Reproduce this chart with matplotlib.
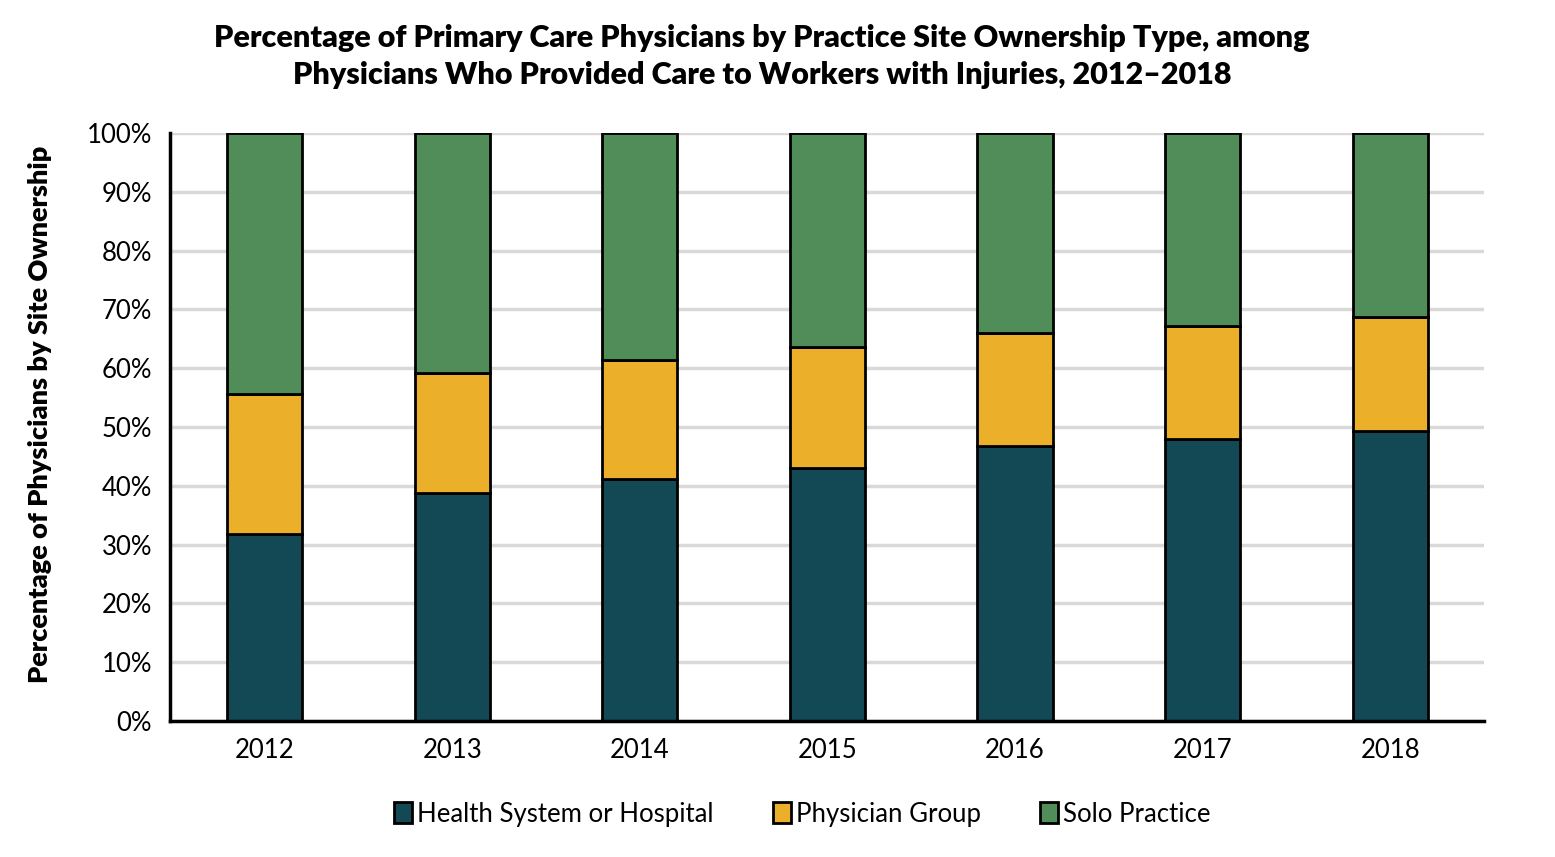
import matplotlib.pyplot as plt
import numpy as np

years = ['2012', '2013', '2014', '2015', '2016', '2017', '2018']
health_system = [31.8, 38.8, 41.2, 43.0, 46.8, 48.0, 49.3]
physician_group = [23.8, 20.4, 20.2, 20.6, 19.2, 19.2, 19.4]
solo_practice = [44.4, 40.8, 38.6, 36.4, 34.0, 32.8, 31.3]

labels = ['Health System or Hospital', 'Physician Group', 'Solo Practice']
colors = ['#134955', '#ebaf29', '#508d58']

plt.rcParams['font.family'] = ['Lato', 'DejaVu Sans']

fig = plt.figure(figsize=(15.55, 8.57), dpi=100)
ax = fig.add_axes([0.1093, 0.1587, 0.845, 0.686])

x = np.arange(len(years))
bottom = np.zeros(len(years))
for vals, lab, col in zip([health_system, physician_group, solo_practice], labels, colors):
    ax.bar(x, vals, width=0.4, bottom=bottom, color=col, edgecolor='black',
           linewidth=2, label=lab, zorder=3)
    bottom += np.array(vals)

ax.set_xlim(-0.505, 6.5)
ax.set_ylim(0, 100)
ax.set_yticks(np.arange(0, 101, 10))
ax.set_yticklabels([f'{v}%' for v in range(0, 101, 10)], fontsize=18.5)
ax.set_xticks(x)
ax.set_xticklabels(years, fontsize=18.5)
ax.tick_params(axis='y', length=0, pad=13)
ax.tick_params(axis='x', length=0, pad=12)
ax.grid(axis='y', color='#d9d9d9', linewidth=2.5, zorder=0)
for s in ['top', 'right']:
    ax.spines[s].set_visible(False)
ax.spines['left'].set_linewidth(2.5)
ax.spines['bottom'].set_linewidth(2.5)
ax.spines['left'].set_zorder(4)
ax.spines['bottom'].set_zorder(4)

ax.set_ylabel('Percentage of Physicians by Site Ownership', fontsize=19.5,
              fontweight='heavy')
ax.yaxis.set_label_coords(-0.09, 0.521)
fig.suptitle('Percentage of Primary Care Physicians by Practice Site Ownership Type, among\n'
             'Physicians Who Provided Care to Workers with Injuries, 2012\u20132018',
             x=0.49, y=0.972, fontsize=22, fontweight='heavy', linespacing=1.4)

leg = ax.legend(loc='center', bbox_to_anchor=(0.516, 0.05), bbox_transform=fig.transFigure,
                ncol=3, frameon=False, fontsize=18.5, handlelength=0.7, handleheight=0.9,
                handletextpad=0.2, columnspacing=2.3)
for h in leg.legend_handles:
    h.set_linewidth(2)

fig.savefig('out.png', dpi=100)
